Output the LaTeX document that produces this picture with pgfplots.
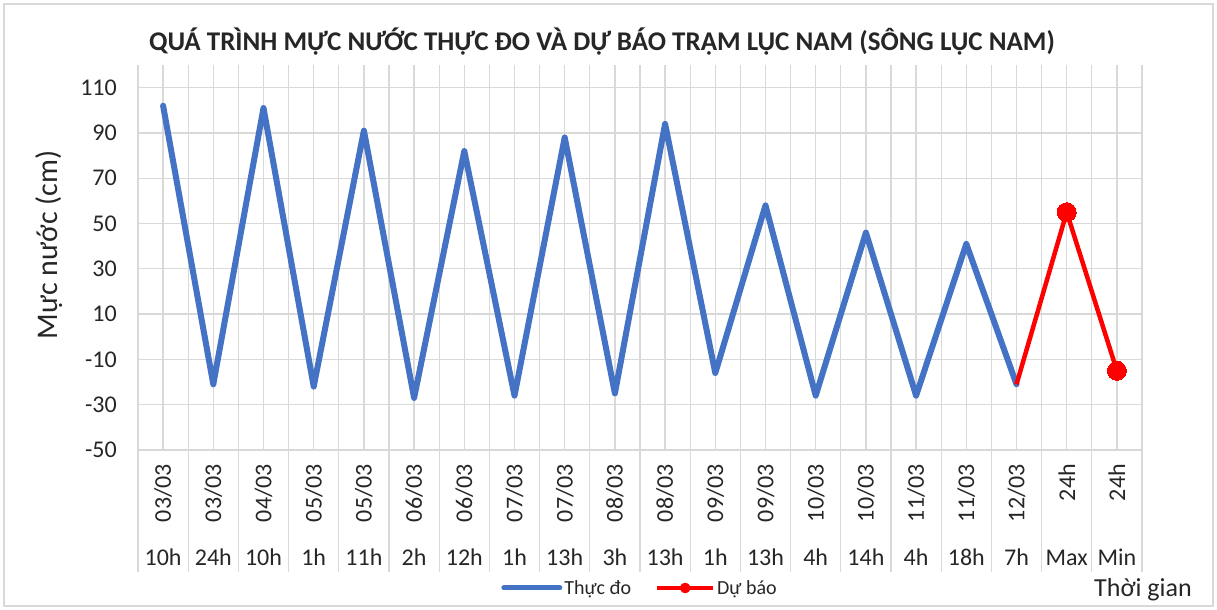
\documentclass[border=0pt]{standalone}
\usepackage{pgfplots}
\pgfplotsset{compat=1.18}
\usepackage{pgfplotstable}
\usepackage{fontspec}
\setmainfont{Carlito}
\usepackage{graphicx}
\definecolor{blueline}{HTML}{4472C4}
\definecolor{gridgray}{HTML}{D9D9D9}
\definecolor{txt}{HTML}{262626}
\newcommand{\fs}[1]{\fontsize{#1}{#1}\selectfont}
\newcommand{\lbl}[2]{\vbox to 101bp{\hbox to 44bp{\hfil\rotatebox{90}{#1}\hfil}\vfil\hbox to 44bp{\hfil #2\hfil}}}

\pgfplotstableread{
x y
0 102
1 -21
2 101
3 -22
4 91
5 -27
6 82
7 -26
8 88
9 -25
10 94
11 -16
12 58
13 -26
14 46
15 -26
16 41
17 -21
}\obs

\pgfplotstableread{
x y
17 -21
18 55
19 -15
}\fc

\begin{document}
\begin{tikzpicture}[x=1bp,y=1bp]
\path (0,0) rectangle (1217,610);
\draw[gridgray, line width=1.5bp] (4,4) rectangle (1213,606);
\node[txt, font=\fs{27bp}\bfseries] at (602,568) {QUÁ TRÌNH MỰC NƯỚC THỰC ĐO VÀ DỰ BÁO TRẠM LỤC NAM (SÔNG LỤC NAM)};
\node[txt, font=\fs{30bp}, rotate=90] at (49,365) {Mực nước (cm)};
\node[txt, font=\fs{26bp}] at (1143,20) {Thời gian};
\begin{axis}[
  at={(138bp,160bp)}, anchor=south west,
  scale only axis, width=1004bp, height=385bp,
  xmin=-0.5, xmax=19.5, ymin=-50, ymax=120,
  xtick={0,...,19},
  xticklabels={\lbl{03/03}{10h},\lbl{03/03}{24h},\lbl{04/03}{10h},\lbl{05/03}{1h},\lbl{05/03}{11h},\lbl{06/03}{2h},\lbl{06/03}{12h},\lbl{07/03}{1h},\lbl{07/03}{13h},\lbl{08/03}{3h},\lbl{08/03}{13h},\lbl{09/03}{1h},\lbl{09/03}{13h},\lbl{10/03}{4h},\lbl{10/03}{14h},\lbl{11/03}{4h},\lbl{11/03}{18h},\lbl{12/03}{7h},\lbl{24h}{Max},\lbl{24h}{Min}},
  minor xtick={-0.5,0.5,...,19.5},
  ytick={-50,-30,...,110},
  yticklabels={-50,-30,-10,10,30,50,70,90,110},
  grid=both,
  major grid style={gridgray, line width=1.3bp},
  minor grid style={gridgray, line width=1.3bp},
  axis line style={draw=none},
  tick pos=left,
  tick align=outside,
  major tick length=0pt,
  minor tick length=122bp,
  tick style={gridgray, line width=1.3bp},
  xticklabel style={anchor=north, inner sep=0pt, yshift=-14bp, font=\fs{24bp}, text=txt},
  yticklabel style={anchor=east, inner sep=0pt, xshift=-21bp, font=\fs{24bp}, text=txt},
  legend style={at={(0.5,0)}, anchor=center, yshift=-138bp, draw=none, fill=none,
    font=\fs{20bp}, text=txt, inner sep=0pt,
    /tikz/every even column/.append style={column sep=22bp}},
  legend columns=2,
  legend cell align=left,
  clip=false,
]
\addplot[blueline, line width=6bp, line join=round, line cap=round, no marks,
  legend image code/.code={\draw[blueline, line width=5bp] (0bp,0bp) -- (56bp,0bp);}]
  table[x=x, y=y] {\obs};
\addlegendentry{Thực đo}
\addplot[red, line width=4.5bp, line join=round, mark=*, mark size=9.5bp, mark indices={2,3},
  mark options={fill=red, draw=red, line width=0pt},
  legend image code/.code={\draw[red, line width=4bp] (0bp,0bp) -- (56bp,0bp); \fill[red] (28bp,0bp) circle (3bp);}]
  table[x=x, y=y] {\fc};
\addlegendentry{Dự báo}
\end{axis}
\end{tikzpicture}
\end{document}
